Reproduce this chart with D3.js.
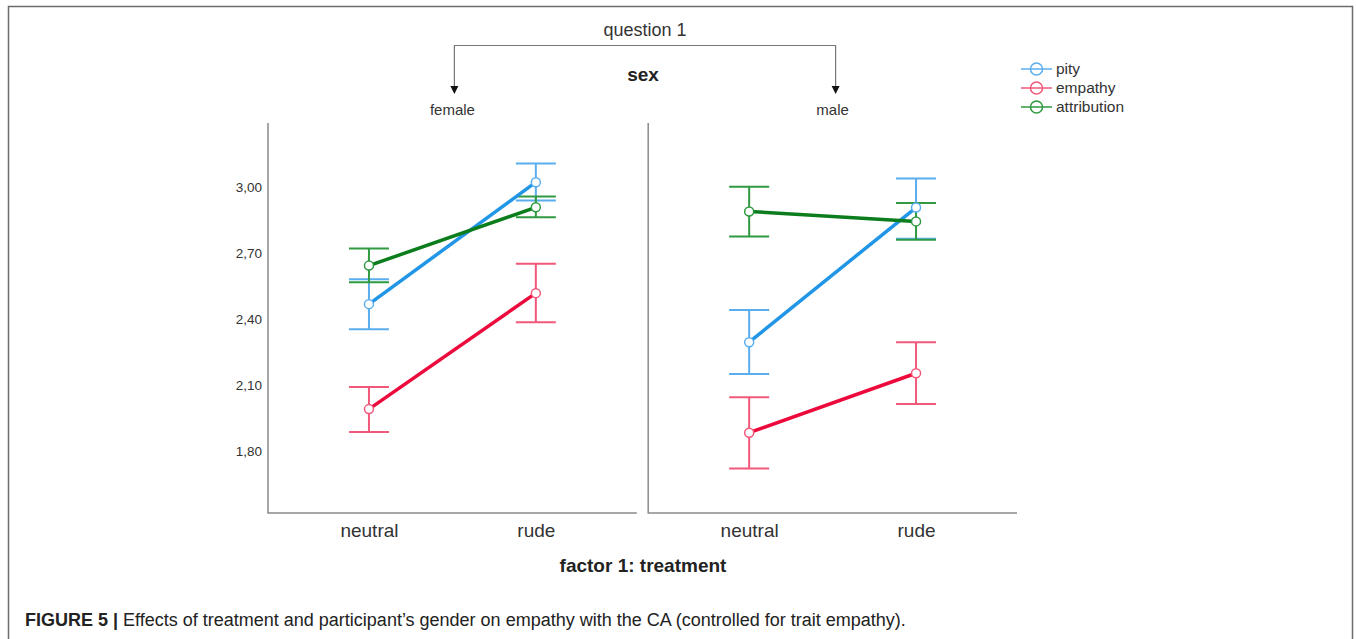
<!DOCTYPE html>
<html><head><meta charset="utf-8">
<script src="https://cdn.jsdelivr.net/npm/d3@7"></script>
<style>
body{margin:0;background:#fff;}
svg{display:block;font-family:"Liberation Sans",Arial,sans-serif;}
</style></head>
<body>
<svg id="c" width="1356" height="639"></svg>
<script>
const panels = ["female", "male"];
const treatments = ["neutral", "rude"];
const seriesNames = ["pity", "empathy", "attribution"];
const yTicks = [1.80, 2.10, 2.40, 2.70, 3.00];
// means [female neutral, female rude, male neutral, male rude]
const pityMean = [2.467, 3.021, 2.294, 2.906];
const pityLow = [2.353, 2.938, 2.149, 2.764];
const pityHigh = [2.580, 3.106, 2.440, 3.038];
const empathyMean = [1.990, 2.517, 1.883, 2.153];
const empathyLow = [1.886, 2.385, 1.720, 2.013];
const empathyHigh = [2.090, 2.650, 2.044, 2.294];
const attributionMean = [2.642, 2.907, 2.888, 2.843];
const attributionLow = [2.567, 2.862, 2.774, 2.759];
const attributionHigh = [2.720, 2.956, 3.000, 2.926];

const lineColors = {pity:"#2196e6", empathy:"#ec0a3c", attribution:"#0b7d1c"};
const barColors = {pity:"#5aaeee", empathy:"#f2587a", attribution:"#2f9a40"};
const seriesData = {
  pity: {m: pityMean, lo: pityLow, hi: pityHigh},
  empathy: {m: empathyMean, lo: empathyLow, hi: empathyHigh},
  attribution: {m: attributionMean, lo: attributionLow, hi: attributionHigh}
};

const svg = d3.select("#c");
// outer frame
svg.append("path").attr("d","M8.5,639 V6.5 H1352.5 V639").attr("fill","none").attr("stroke","#6b6b6b").attr("stroke-width",1.5);

const y = d3.scaleLinear().domain([1.518, 3.29]).range([513, 123]);
const panelX = d3.scaleBand().domain(panels).range([268, 1017]).paddingInner(0.03);
const pw = panelX.bandwidth();

// y axis labels
const yAxis = d3.axisLeft(y).tickValues(yTicks).tickSize(0).tickPadding(6)
  .tickFormat(d => d3.format(".2f")(d).replace(".", ","));
const ya = svg.append("g").attr("transform","translate(268,0)").call(yAxis);
ya.select(".domain").remove();
ya.selectAll("text").attr("font-size",13.5).attr("fill","#333").attr("font-family","Liberation Sans, Arial, sans-serif");

panels.forEach((p, pi) => {
  const x0 = panelX(p);
  const x = d3.scalePoint().domain(treatments).range([x0, x0 + pw]).padding(0.605);
  const g = svg.append("g");
  // axis lines
  g.append("path").attr("d",`M${x0},${y.range()[1]} V${y.range()[0]} H${x0+pw}`)
    .attr("fill","none").attr("stroke","#8a8a8a").attr("stroke-width",1.5);
  // x labels
  const xa = svg.append("g").attr("transform",`translate(0,${y.range()[0]})`)
    .call(d3.axisBottom(x).tickSize(0).tickPadding(11));
  xa.select(".domain").remove();
  xa.selectAll("text").attr("font-size",19).attr("fill","#333").attr("font-family","Liberation Sans, Arial, sans-serif");
  // panel label
  svg.append("text").attr("x", x0 + pw/2).attr("y", 115).attr("text-anchor","middle")
    .attr("font-size",15).attr("fill","#333").text(p);

  const order = ["pity","empathy","attribution"];
  order.forEach(s => {
    const d = seriesData[s];
    const pts = treatments.map((t, ti) => ({t, m: d.m[pi*2+ti], lo: d.lo[pi*2+ti], hi: d.hi[pi*2+ti]}));
    pts.forEach(pt => {
      const cx = x(pt.t);
      const eb = g.append("g").attr("stroke", barColors[s]).attr("stroke-width",2).attr("fill","none");
      eb.append("line").attr("x1",cx).attr("x2",cx).attr("y1",y(pt.lo)).attr("y2",y(pt.hi));
      eb.append("line").attr("x1",cx-20).attr("x2",cx+20).attr("y1",y(pt.lo)).attr("y2",y(pt.lo));
      eb.append("line").attr("x1",cx-20).attr("x2",cx+20).attr("y1",y(pt.hi)).attr("y2",y(pt.hi));
    });
  });
  order.forEach(s => {
    const d = seriesData[s];
    const pts = treatments.map((t, ti) => ({t, m: d.m[pi*2+ti]}));
    g.append("path").datum(pts)
      .attr("d", d3.line().x(q => x(q.t)).y(q => y(q.m)))
      .attr("fill","none").attr("stroke", lineColors[s]).attr("stroke-width",3.5);
  });
  order.forEach(s => {
    const d = seriesData[s];
    const pts = treatments.map((t, ti) => ({t, m: d.m[pi*2+ti]}));
    g.selectAll(null).data(pts).join("circle")
      .attr("cx", q => x(q.t)).attr("cy", q => y(q.m)).attr("r",4.5)
      .attr("fill","#fff").attr("stroke", barColors[s]).attr("stroke-width",1.5);
  });
});

// top bracket
const lx = panelX("female") + pw/2 + 2, rx = panelX("male") + pw/2 + 3;
svg.append("path").attr("d",`M${lx},88 V45.5 H${rx} V88`).attr("fill","none").attr("stroke","#777").attr("stroke-width",1.2);
[lx, rx].forEach(ax => {
  svg.append("path").attr("d",`M${ax-4},86 L${ax+4},86 L${ax},94 Z`).attr("fill","#111");
});
svg.append("text").attr("x", 645).attr("y", 36).attr("text-anchor","middle").attr("font-size",18).attr("fill","#333").text("question 1");
svg.append("text").attr("x", 643).attr("y", 81).attr("text-anchor","middle").attr("font-size",19).attr("font-weight","bold").attr("fill","#222").text("sex");

// x title
svg.append("text").attr("x", 643).attr("y", 572).attr("text-anchor","middle").attr("font-size",19).attr("font-weight","bold").attr("fill","#222").text("factor 1: treatment");

// legend
const leg = svg.append("g");
seriesNames.forEach((s, i) => {
  const ly = 69 + i*19;
  leg.append("line").attr("x1",1021).attr("x2",1052).attr("y1",ly).attr("y2",ly).attr("stroke",barColors[s]).attr("stroke-width",1.5);
  leg.append("circle").attr("cx",1036.5).attr("cy",ly).attr("r",6).attr("fill","none").attr("stroke",barColors[s]).attr("stroke-width",1.5);
  leg.append("text").attr("x",1056).attr("y",ly+5).attr("font-size",15.5).attr("fill","#333").text(s);
});

// caption
const cap = svg.append("text").attr("x", 25).attr("y", 626).attr("font-size",18).attr("fill","#222");
cap.append("tspan").attr("font-weight","bold").text("FIGURE 5 | ");
cap.append("tspan").text("Effects of treatment and participant’s gender on empathy with the CA (controlled for trait empathy).");
</script>
</body></html>
